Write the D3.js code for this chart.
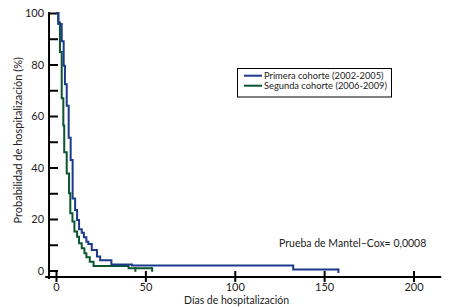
<!DOCTYPE html>
<html><head><meta charset="utf-8">
<script src="https://cdn.jsdelivr.net/npm/d3@7"></script>
<style>
body{margin:0;background:#fff;}
svg text{font-family:Lato,"Open Sans",sans-serif;fill:#222;}
</style></head><body>
<svg id="c" width="451" height="307"></svg>
<script>
// Data (days, probability %)
const daysCohort1 = [0, 1.3, 3.2, 4.3, 5, 6, 7.1, 8.2, 9.3, 10.7, 11.8, 12.9, 14.4, 15.6, 17, 18.1, 20, 22.9, 24.7, 31, 42.5, 132.7, 158];
const survCohort1 = [100, 95.7, 89, 79.5, 72.3, 64, 51.6, 42.9, 28, 23.5, 19.6, 16, 14.7, 12.9, 11.2, 10.3, 8, 5.4, 4.0, 2.3, 1.9, 0.4, 0.4];
const daysCohort2 = [0, 1.3, 2.2, 3.2, 4.1, 4.6, 6, 7.3, 8, 9.2, 10.3, 11.8, 12.9, 14.4, 15.9, 17, 18.9, 21, 40.6, 53.8];
const survCohort2 = [100, 96.3, 84.9, 66.9, 56.3, 45.9, 37.7, 30, 22.2, 19, 15.1, 13.1, 10.6, 8.6, 6.7, 5.1, 3.4, 1.7, 0.85, 0.85];
const censor1 = [158];
const censor2 = [44.4, 53.8];
const seriesNames = ["Primera cohorte (2002-2005)", "Segunda cohorte (2006-2009)"];
const xTicks = [0, 50, 100, 150, 200];
const yTicks = [0, 10, 20, 30, 40, 50, 60, 70, 80, 90, 100];
const yLabelTicks = [0, 20, 40, 60, 80, 100];
const xTitle = "Días de hospitalización";
const yTitle = "Probabilidad de hospitalización (%)";
const testText = "Prueba de Mantel–Cox= 0,0008";

const colors = ["#1c3a8a", "#0b5530"];

const svg = d3.select("#c");
const x = d3.scaleLinear().domain([0, 200]).range([56, 413.5]);
const y = d3.scaleLinear().domain([0, 100]).range([270.5, 13]);

// Y axis
const yAxisX = x(-3.9);
const gy = svg.append("g").attr("transform", `translate(${yAxisX},0)`)
  .call(d3.axisLeft(y).tickValues(yTicks).tickSizeInner(-9).tickSizeOuter(0).tickPadding(5)
    .tickFormat(d => yLabelTicks.includes(d) ? d : ""));
gy.select(".domain").remove();
gy.selectAll(".tick line").attr("stroke", "#000").attr("stroke-width", 2);
gy.selectAll(".tick text").style("font-size", "11px").attr("fill", "#222");
svg.append("line").attr("x1", yAxisX).attr("x2", yAxisX).attr("y1", y(100) - 1).attr("y2", y(-3.3))
  .attr("stroke", "#000").attr("stroke-width", 2);

// X axis
const xAxisY = y(-2.5);
const gx = svg.append("g").attr("transform", `translate(0,${xAxisY})`)
  .call(d3.axisBottom(x).tickValues(xTicks).tickSizeInner(5).tickSizeOuter(0).tickPadding(1.5));
gx.select(".domain").remove();
gx.selectAll(".tick line").attr("stroke", "#000").attr("stroke-width", 2).attr("y1", -6);
gx.selectAll(".tick text").style("font-size", "11px").attr("fill", "#222");
svg.append("line").attr("x1", x(-6)).attr("x2", x(215.5)).attr("y1", xAxisY).attr("y2", xAxisY)
  .attr("stroke", "#000").attr("stroke-width", 2);

// Curves
const line = d3.line().x(d => x(d[0])).y(d => y(d[1])).curve(d3.curveStepAfter);
const series = [
  {days: daysCohort1, surv: survCohort1, censor: censor1},
  {days: daysCohort2, surv: survCohort2, censor: censor2}
];
[1, 0].forEach(i => {
  const s = series[i];
  const pts = s.days.map((d, k) => [d, s.surv[k]]);
  svg.append("path").attr("d", line(pts)).attr("fill", "none")
    .attr("stroke", colors[i]).attr("stroke-width", 2);
  s.censor.forEach(c => {
    const idx = d3.bisectRight(s.days, c) - 1;
    const v = s.surv[Math.max(0, idx)];
    svg.append("line").attr("x1", x(c)).attr("x2", x(c)).attr("y1", y(v) - 1).attr("y2", y(v) + 3.5)
      .attr("stroke", colors[i]).attr("stroke-width", 2);
  });
});

// Titles
svg.append("text").attr("x", x(101)).attr("y", 304).attr("text-anchor", "middle")
  .style("font-size", "10.5px").text(xTitle);
svg.append("text").attr("transform", `translate(21.5,${y(50) - 1.5}) rotate(-90)`).attr("text-anchor", "middle")
  .style("font-size", "11px").text(yTitle);

// Mantel-Cox
svg.append("text").attr("x", 279).attr("y", 247).style("font-size", "10.5px").text(testText);

// Legend
const lg = svg.append("g");
lg.append("rect").attr("x", 237.5).attr("y", 68.5).attr("width", 154).attr("height", 28.5)
  .attr("fill", "#fff").attr("stroke", "#000").attr("stroke-width", 1);
seriesNames.forEach((n, i) => {
  const yy = 75.7 + i * 10;
  lg.append("line").attr("x1", 244).attr("x2", 262).attr("y1", yy).attr("y2", yy)
    .attr("stroke", colors[i]).attr("stroke-width", 2);
  lg.append("text").attr("x", 264).attr("y", yy + 3.3).style("font-size", "9.3px").text(n);
});
</script></body></html>
